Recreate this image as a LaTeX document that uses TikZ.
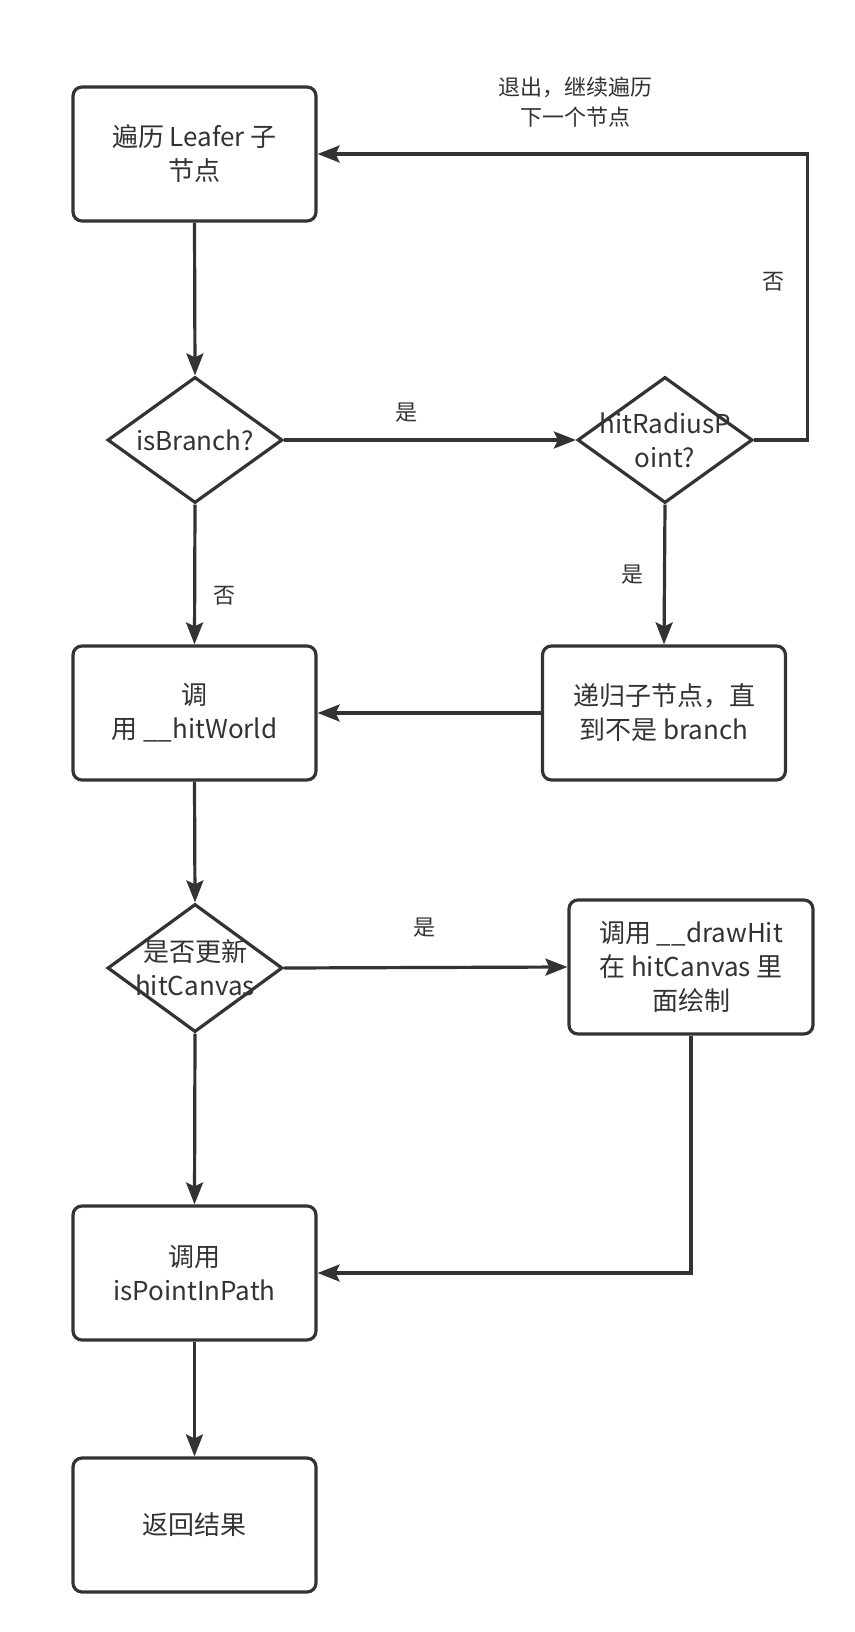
\documentclass[tikz,border=0pt]{standalone}
\usepackage{fontspec}
\setmainfont{Noto Sans CJK SC}
\usetikzlibrary{shapes.geometric,arrows.meta}
\definecolor{ink}{HTML}{333333}
\begin{document}
\begin{tikzpicture}[x=1pt,y=-1pt,
  box/.style={draw=ink, line width=3.2pt, rounded corners=9pt, minimum width=243pt, minimum height=134pt, inner sep=0pt, align=center, text=ink, font=\fontsize{26}{34}\selectfont, fill=white},
  dia/.style={draw=ink, line width=3.2pt, diamond, minimum width=175pt, minimum height=126pt, inner sep=0pt, fill=white},
  dtext/.style={text=ink, align=center, font=\fontsize{26}{34}\selectfont, inner sep=0pt},
  conn/.style={draw=ink, line width=3.2pt, -{Stealth[length=22pt,width=17pt,inset=4pt]}},
  lab/.style={text=ink, align=center, font=\fontsize{22}{30}\selectfont, inner sep=0pt}]
\useasboundingbox (0,0) rectangle (854,1632);
\fill[white] (0,0) rectangle (854,1632);

\node[box] (leaf) at (194.5,154) {遍历 Leafer 子\\节点};
\node[dia] (isb) at (195,440) {};
\node[dtext] (isbt) at (isb.center) {isBranch?};
\node[dia] (hrp) at (665,440) {};
\node[dtext] (hrpt) at (hrp.center) {hitRadiusP\\oint?};
\node[box] (hw) at (194.5,713) {调\\用 \_\_hitWorld};
\node[box] (rec) at (664,713) {递归子节点，直\\到不是 branch};
\node[dia, minimum height=128pt] (upd) at (195,968) {};
\node[dtext] (updt) at (upd.center) {是否更新\\hitCanvas};
\node[box, minimum width=244pt] (dh) at (691,967) {调用 \_\_drawHit\\在 hitCanvas 里\\面绘制};
\node[box] (pip) at (194.5,1273) {调用\\isPointInPath};
\node[box] (ret) at (194.5,1525) {返回结果};

\draw[conn] (leaf.south) -- (isb.north);
\draw[conn] (isb.east) -- (hrp.west);
\draw[conn] (isb.south) -- (hw.north);
\draw[conn] (hrp.east) -- ++(53,0) |- (leaf.east);
\draw[conn] (hrp.south) -- (rec.north);
\draw[conn] (rec.west) -- (hw.east);
\draw[conn] (hw.south) -- (upd.north);
\draw[conn] (upd.east) -- (dh.west);
\draw[conn] (upd.south) -- (pip.north);
\draw[conn] (dh.south) |- (pip.east);
\draw[conn] (pip.south) -- (ret.north);

\node[lab] (l1) at (406,413) {是};
\node[lab] (l2) at (224,596) {否};
\node[lab] (l3) at (632,575) {是};
\node[lab] (l4) at (773,282) {否};
\node[lab] (l5) at (575,102) {退出，继续遍历\\下一个节点};
\node[lab] (l6) at (424,928) {是};
\end{tikzpicture}
\end{document}
